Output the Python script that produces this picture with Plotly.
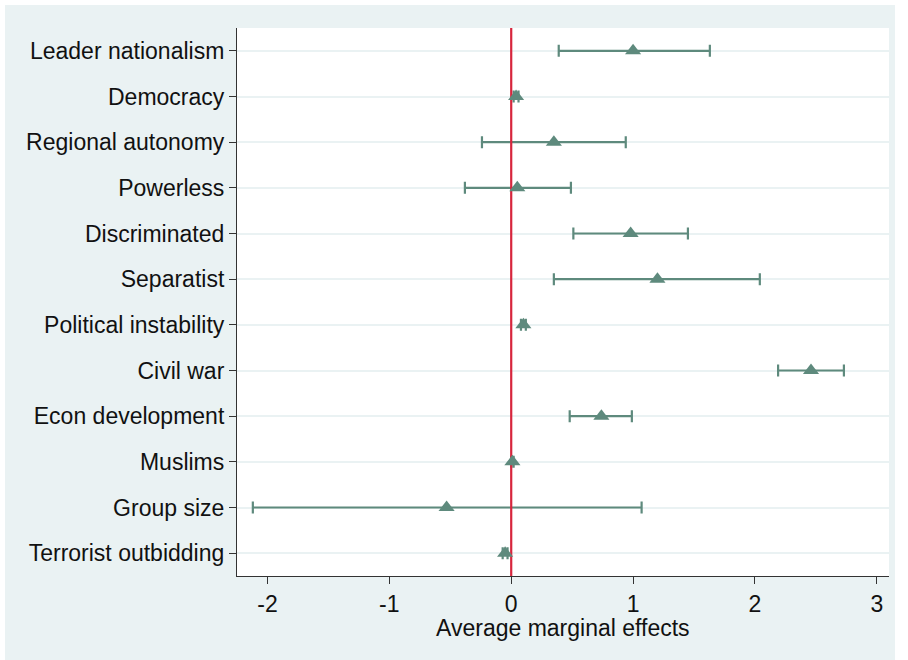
import plotly.graph_objects as go

categories = ["Leader nationalism", "Democracy", "Regional autonomy", "Powerless",
              "Discriminated", "Separatist", "Political instability", "Civil war",
              "Econ development", "Muslims", "Group size", "Terrorist outbidding"]
estimates = [1.00, 0.04, 0.35, 0.05, 0.98, 1.20, 0.10, 2.46, 0.74, 0.01, -0.53, -0.05]
ci_low = [0.39, 0.02, -0.24, -0.38, 0.51, 0.35, 0.08, 2.19, 0.48, 0.00, -2.12, -0.07]
ci_high = [1.63, 0.06, 0.94, 0.49, 1.45, 2.04, 0.12, 2.73, 0.99, 0.02, 1.07, -0.03]
x_ticks = [-2, -1, 0, 1, 2, 3]
ref_line = 0
x_range = [-2.25, 3.10]
x_title = "Average marginal effects"

n = len(categories)
ypos = [n - i for i in range(n)]
err_plus = [h - e for h, e in zip(ci_high, estimates)]
err_minus = [e - l for e, l in zip(estimates, ci_low)]

mark_color = "#5E8A7D"
bg = "#EAF2F3"
font = "Liberation Sans, Arial, sans-serif"

fig = go.Figure()
fig.add_trace(go.Scatter(
    x=estimates, y=ypos, mode="markers",
    marker=dict(size=1, color="rgba(0,0,0,0)"),
    error_x=dict(type="data", array=err_plus, arrayminus=err_minus,
                 color=mark_color, thickness=2.2, width=6, symmetric=False),
    showlegend=False, hoverinfo="skip"))
fig.add_trace(go.Scatter(
    x=[ref_line, ref_line], y=[0.5, n + 0.5], mode="lines",
    line=dict(color="#D7263D", width=2.2), showlegend=False, hoverinfo="skip"))
fig.add_trace(go.Scatter(
    x=estimates, y=ypos, mode="markers",
    marker=dict(symbol="triangle-up", size=14, color=mark_color),
    showlegend=False))

fig.update_layout(
    width=890, height=655,
    margin=dict(l=232, r=6, t=23, b=84),
    paper_bgcolor=bg, plot_bgcolor="white",
    font=dict(family=font, size=23, color="#111111"),
    annotations=[dict(text=x_title, xref="paper", yref="paper", x=0.5, y=-0.094,
                      xanchor="center", yanchor="middle", showarrow=False,
                      font=dict(size=23, color="#111111"))],
)
fig.update_xaxes(
    range=x_range, tickvals=x_ticks, ticktext=[str(v) for v in x_ticks],
    showgrid=False, zeroline=False, showline=True, linecolor="#333333", linewidth=1.2,
    ticks="outside", ticklen=7, tickcolor="#333333", tickwidth=1.2,
    tickfont=dict(size=23))
fig.update_yaxes(
    range=[0.5, n + 0.5], tickvals=ypos, ticktext=categories,
    showgrid=True, gridcolor=bg, gridwidth=1.5, zeroline=False,
    showline=True, linecolor="#333333", linewidth=1.2,
    ticks="outside", ticklen=7, tickcolor="#333333", tickwidth=1.2,
    tickfont=dict(size=23))

fig.write_html("out.html", post_script="document.body.style.margin='5px';")
